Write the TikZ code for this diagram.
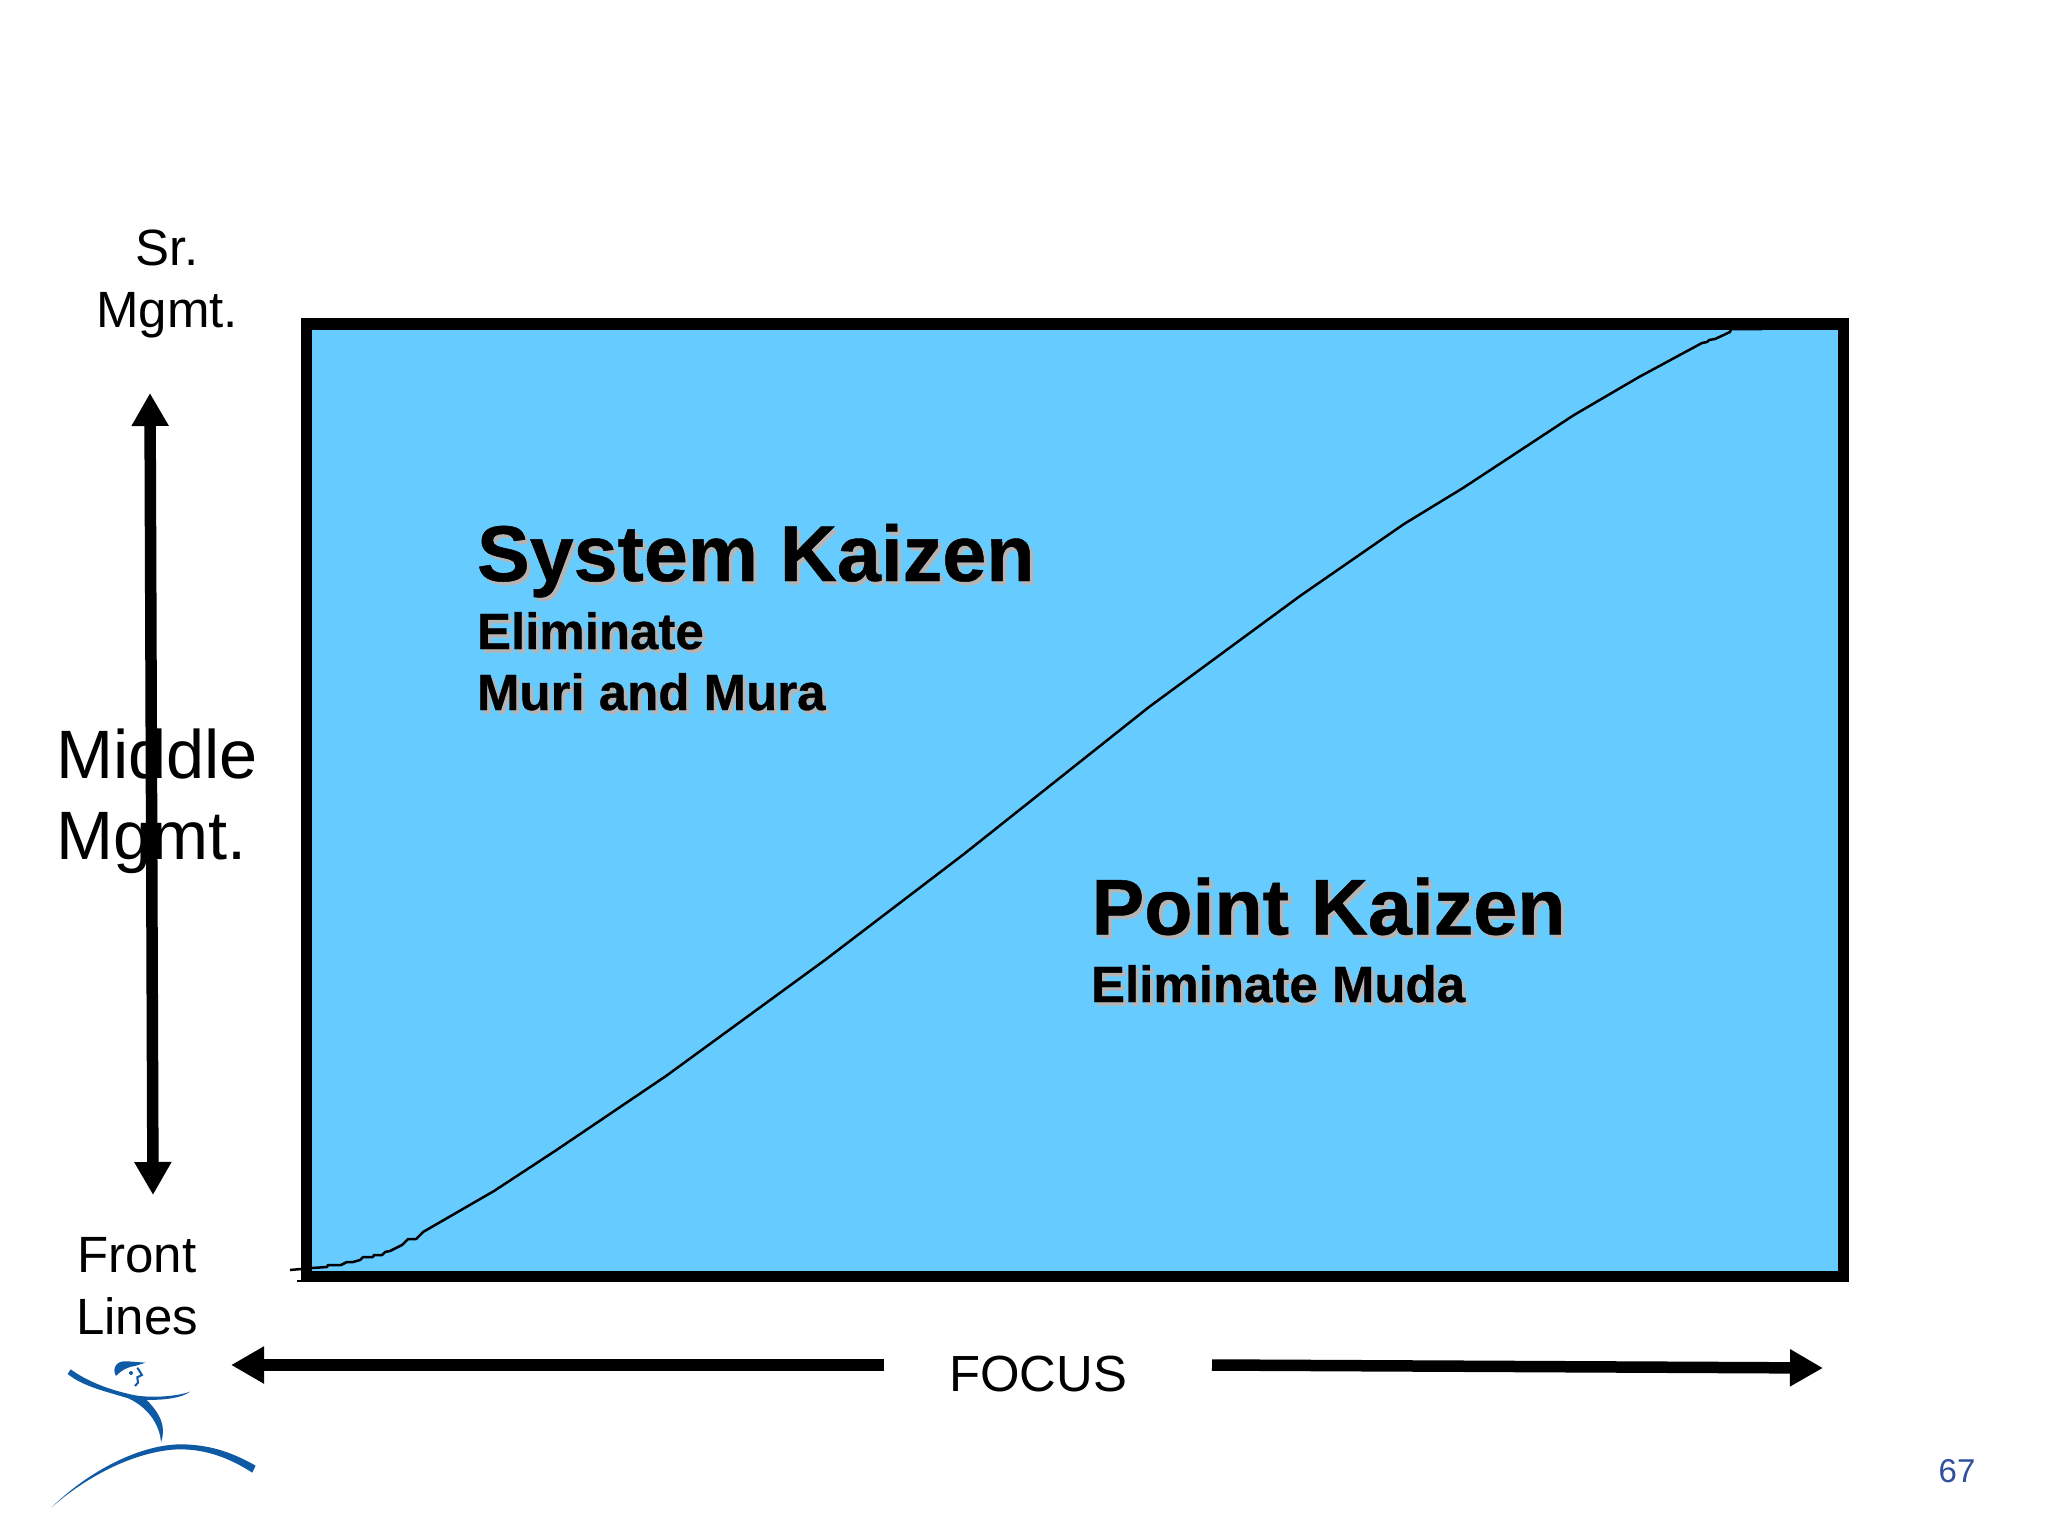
\documentclass[tikz,border=0pt]{standalone}
\usepackage{fontspec}
\setmainfont{Liberation Sans}
\newfontfamily\heavy[FakeBold=0.6]{Liberation Sans Bold}
\usetikzlibrary{arrows.meta}
\definecolor{panel}{HTML}{66CCFF}
\definecolor{logoblue}{HTML}{0F5AA5}
\definecolor{pagenum}{HTML}{2F4F9F}
\definecolor{shade}{HTML}{B4B4B4}
\newcommand{\shadowed}[1]{\leavevmode\rlap{\kern3.5pt\raisebox{-3.5pt}{\textcolor{shade}{#1}}}#1}
\tikzset{
  label/.style={inner sep=0pt,outer sep=0pt,text=black,align=center},
  bigarrow/.style={line width=11.5pt,-{Triangle[length=33pt,width=35pt]}},
  headtxt/.style={inner sep=0pt,outer sep=0pt,anchor=base west,font=\heavy\fontsize{79}{79}\selectfont},
  subtxt/.style={inner sep=0pt,outer sep=0pt,anchor=base west,font=\heavy\fontsize{51}{51}\selectfont},
}
\begin{document}
\begin{tikzpicture}[x=1pt,y=-1pt]
\useasboundingbox[fill=white] (0,0) rectangle (2048,1536);
% panel
\draw[line width=11.5pt,fill=panel,miter limit=10] (306.5,324) rectangle (1843.5,1276.5);
% dividing curve
\draw[line width=2.5pt,line join=round] (290,1270) -- (312,1268) -- (327,1267) -- (328,1265) -- (341,1265) -- (347,1262) -- (353,1262) -- (360,1260) -- (363,1257) -- (373,1257) -- (374,1255) -- (382,1255) -- (385,1252) -- (390,1251) -- (402,1245) -- (408,1239) -- (416,1239) -- (423,1232) -- (494,1191) -- (555,1151) -- (666,1076) -- (825,960) -- (964,854) -- (1149,707) -- (1300,596) -- (1404,524) -- (1463,488) -- (1574,415) -- (1639,377) -- (1702,343) -- (1707,342) -- (1709,340) -- (1715,339) -- (1730,332) -- (1731,329) -- (1762,329);
\draw[line width=2pt] (297,1281) -- (305,1281);
% labels
\node[label,font=\fontsize{51}{62}\selectfont] (sr) at (167,284) {Sr.\\Mgmt.};
\node[label,font=\fontsize{68.5}{81}\selectfont,align=left,anchor=west] (mid) at (56,801) {Middle\\Mgmt.};
\node[label,font=\fontsize{51}{62}\selectfont] (fl) at (137,1286) {Front\\Lines};
\node[inner sep=0pt,anchor=base,font=\fontsize{50.8}{60}\selectfont] (focus) at (1038,1391) {FOCUS};
\node[inner sep=0pt,anchor=base,text=pagenum,font=\fontsize{33}{40}\selectfont] (pg) at (1957,1482) {67};
% headings
\node[headtxt] (sys) at (477,581) {\shadowed{System Kaizen}};
\node[subtxt] (sys1) at (477,649) {\shadowed{Eliminate}};
\node[subtxt] (sys2) at (477,710) {\shadowed{Muri and Mura}};
\node[headtxt] (pt) at (1091.5,934.5) {\shadowed{Point Kaizen}};
\node[subtxt] (pt1) at (1091,1002) {\shadowed{Eliminate Muda}};
% arrows
\coordinate (vtop) at (150,393);
\coordinate (vbot) at (153,1195);
\coordinate (lstart) at (884,1365);
\coordinate (ltip) at (231,1365);
\coordinate (rstart) at (1212,1365);
\coordinate (rtip) at (1823,1368);
\draw[line width=11.5pt,{Triangle[length=33pt,width=35pt]}-{Triangle[length=33pt,width=35pt]}] (vtop) -- (vbot);
\draw[bigarrow] (lstart) -- (ltip);
\draw[bigarrow] (rstart) -- (rtip);
% logo
\begin{scope}[shift={(0,1200)},x=0.3333pt,y=-0.3333pt]
\fill[logoblue] (203,522) -- (212,508) .. controls (270,550) and (340,572) .. (400,585) .. controls (450,595) and (530,590) .. (570,575) .. controls (545,595) and (490,600) .. (440,600) .. controls (480,640) and (500,680) .. (483,727) .. controls (480,680) and (450,625) .. (385,595) .. controls (320,575) and (250,560) .. (203,522) -- cycle;
\fill[logoblue] (155,922) .. controls (270,810) and (420,735) .. (540,733) .. controls (640,733) and (710,765) .. (767,797) -- (757,818) .. controls (690,775) and (620,748) .. (540,748) .. controls (420,750) and (270,820) .. (155,922) -- cycle;
\fill[logoblue] (348,528) .. controls (335,505) and (350,483) .. (375,484) .. controls (395,484) and (415,487) .. (437,488) -- (405,498) .. controls (385,500) and (365,510) .. (348,528) -- cycle;
\draw[logoblue,line width=2pt] (412,503) -- (426,525) -- (412,532) -- (414,548) -- (405,558);
\fill[logoblue] (393,519) circle[radius=6];
\end{scope}
\end{tikzpicture}
\end{document}
